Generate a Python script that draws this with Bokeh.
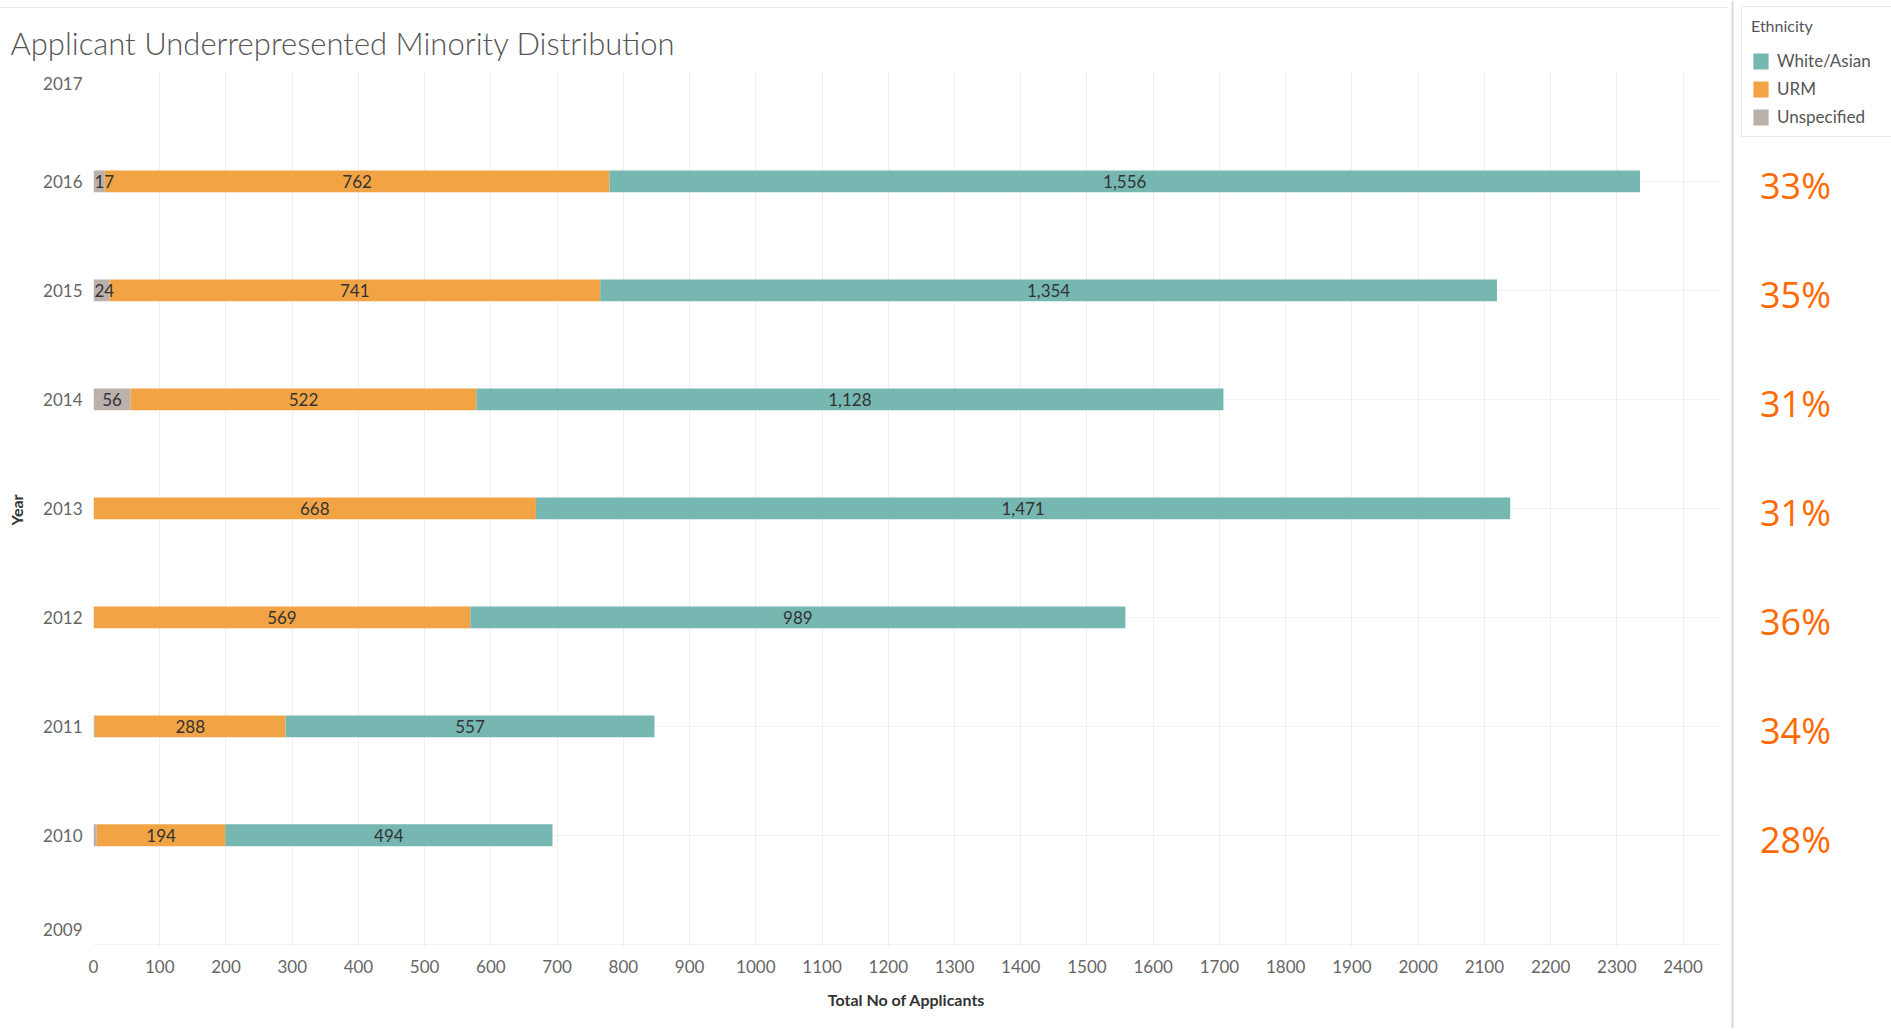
from bokeh.plotting import figure
from bokeh.layouts import row, column
from bokeh.models import ColumnDataSource, Range1d, FixedTicker, Span, Legend, LegendItem
from bokeh.core.properties import value
from bokeh.embed import file_html
from bokeh.resources import INLINE

# ---- data ----
years = [2016, 2015, 2014, 2013, 2012, 2011, 2010]
unspecified = [17, 24, 56, 0, 0, 2, 5]
urm = [762, 741, 522, 668, 569, 288, 194]
white_asian = [1556, 1354, 1128, 1471, 989, 557, 494]
urm_share_labels = ["33%", "35%", "31%", "31%", "36%", "34%", "28%"]
year_ticks = [2009, 2010, 2011, 2012, 2013, 2014, 2015, 2016, 2017]
x_ticks = [0, 100, 200, 300, 400, 500, 600, 700, 800, 900, 1000, 1100, 1200,
           1300, 1400, 1500, 1600, 1700, 1800, 1900, 2000, 2100, 2200, 2300, 2400]
series_names = ["Unspecified", "URM", "White/Asian"]
series_colors = {"Unspecified": "#BAB0AC", "URM": "#F2A444", "White/Asian": "#76B7B2"}

TITLE = "Applicant Underrepresented Minority Distribution"
FONT = "Lato"

H = 1028
STRIP = 8
W_MAIN, W_SEP, W_SIDE = 1728, 7, 156
TOP, BOTTOM = 72, 81
Y0, Y1 = 2008.97, 2017.0
px_per_year = (H - TOP - BOTTOM) / (Y1 - Y0)

# ---- thin strip with the sheet's top border ----
strip = figure(width=W_MAIN, height=STRIP, x_range=Range1d(0, 1), y_range=Range1d(0, STRIP),
               x_axis_type=None, y_axis_type=None, output_backend="svg", toolbar_location=None,
               min_border_left=0, min_border_right=0, min_border_top=0, min_border_bottom=0)
strip.frame_align = False
strip.outline_line_color = None
strip.xgrid.visible = False
strip.ygrid.visible = False
strip.add_layout(Span(location=STRIP - 4, dimension="width", line_color="#d0d0d0", line_width=2))

p = figure(width=W_MAIN, height=H - STRIP,
           x_range=Range1d(0, 2455), y_range=Range1d(Y0, Y1),
           output_backend="svg", toolbar_location=None,
           min_border_left=93, min_border_right=9, min_border_top=TOP - STRIP,
           min_border_bottom=BOTTOM)
p.frame_align = False
p.outline_line_color = None
p.background_fill_color = "white"

p.title.text = TITLE
p.title.text_font = "Lato Light"
p.title.text_font_size = "31px"
p.title.text_font_style = "normal"
p.title.text_color = "#555555"
p.title.align = "left"
p.title.offset = -83
p.title.standoff = 22

# stacked segments
series_values = {"Unspecified": unspecified, "URM": urm, "White/Asian": white_asian}
cum = [0] * len(years)
center_x, center_y, center_t = [], [], []
left_x, left_y, left_t = [], [], []
for name in series_names:
    vals = series_values[name]
    lefts = list(cum)
    rights = [a + b for a, b in zip(cum, vals)]
    src = ColumnDataSource(dict(year=years, left=lefts, right=rights))
    p.hbar(y="year", left="left", right="right", height=0.2,
           source=src, fill_color=series_colors[name], line_color=None)
    for y, l, r, v in zip(years, lefts, rights, vals):
        if v < 10:
            continue
        txt = f"{v:,}"
        if v < 40:
            left_x.append(l); left_y.append(y); left_t.append(txt)
        else:
            center_x.append((l + r) / 2); center_y.append(y); center_t.append(txt)
    cum = rights

p.text(x=center_x, y=center_y, text=center_t, text_align="center", text_baseline="middle",
       text_font=value(FONT), text_font_size="17px", text_color="#333333")
p.text(x=left_x, y=left_y, text=left_t, text_align="left", text_baseline="middle", x_offset=1,
       text_font=value(FONT), text_font_size="17px", text_color="#333333")

# axes: like Tableau, the labels of the two edge years are kept inside the frame
edge_shift_top = 11 / px_per_year
edge_shift_bottom = 15 / px_per_year
label_ticks = []
overrides = {}
for yv in year_ticks:
    if yv == max(year_ticks):
        t = round(yv - edge_shift_top, 4)
    elif yv == min(year_ticks):
        t = round(yv + edge_shift_bottom, 4)
    else:
        t = yv
    label_ticks.append(t)
    overrides[t] = str(yv)

p.xaxis.ticker = FixedTicker(ticks=x_ticks)
p.yaxis.ticker = FixedTicker(ticks=label_ticks)
p.yaxis.major_label_overrides = overrides
p.xgrid.ticker = FixedTicker(ticks=x_ticks)
p.ygrid.ticker = FixedTicker(ticks=year_ticks)
p.xgrid.grid_line_color = "#eeeeee"
p.ygrid.grid_line_color = "#f2f2f2"
for ax in (p.xaxis, p.yaxis):
    ax.axis_line_color = None
    ax.major_tick_line_color = None
    ax.minor_tick_line_color = None
    ax.major_label_text_font = FONT
    ax.major_label_text_font_size = "17px"
    ax.major_label_text_color = "#666666"
    ax.axis_label_text_font = FONT
    ax.axis_label_text_font_size = "16px"
    ax.axis_label_text_font_style = "bold"
    ax.axis_label_text_color = "#333333"
p.xaxis.axis_label = "Total No of Applicants"
p.yaxis.axis_label = "Year"
p.xaxis.major_label_standoff = 6
p.xaxis.axis_label_standoff = 14
p.yaxis.major_label_standoff = 5
p.yaxis.axis_label_standoff = 14

# ---- thin separator panel ----
sep = figure(width=W_SEP, height=H, x_range=Range1d(0, W_SEP), y_range=Range1d(0, 1),
             x_axis_type=None, y_axis_type=None, output_backend="svg", toolbar_location=None,
             min_border_left=0, min_border_right=0, min_border_top=0, min_border_bottom=0)
sep.frame_align = False
sep.outline_line_color = None
sep.xgrid.visible = False
sep.ygrid.visible = False
sep.add_layout(Span(location=4, dimension="height", line_color="#dadada", line_width=2))

# ---- right-hand panel: legend and URM share ----
side_end = Y1 + TOP / px_per_year
side_start = side_end - H / px_per_year
side = figure(width=W_SIDE, height=H,
              x_range=Range1d(0, W_SIDE), y_range=Range1d(side_start, side_end),
              x_axis_type=None, y_axis_type=None,
              output_backend="svg", toolbar_location=None,
              min_border_left=0, min_border_right=0, min_border_top=0, min_border_bottom=0)
side.frame_align = False
side.outline_line_color = None
side.xgrid.visible = False
side.ygrid.visible = False

items = []
for name in ["White/Asian", "URM", "Unspecified"]:
    r = side.hbar(y=[years[0]], left=[0], right=[0], height=0.2,
                  fill_color=series_colors[name], line_color=None)
    items.append(LegendItem(label=name, renderers=[r]))
legend = Legend(items=items, location="top_left", title="Ethnicity",
                margin=6, padding=9, spacing=7,
                glyph_width=19, glyph_height=20, label_height=20, label_width=120,
                label_standoff=7,
                label_text_font=FONT, label_text_font_size="17px", label_text_color="#555555",
                title_text_font=FONT, title_text_font_size="16px", title_text_font_style="normal",
                title_text_color="#555555", title_standoff=15,
                border_line_color="#d4d4d4", border_line_width=1,
                background_fill_color="white", background_fill_alpha=1.0)
side.add_layout(legend)

pct_x = [60] * len(years)
side.text(x=pct_x, y=years, text=urm_share_labels, text_align="center", text_baseline="middle",
          y_offset=4, text_font=value("Open Sans"), text_font_size="36px", text_color="#FF6A00")

layout = row(column(strip, p, spacing=0), sep, side, spacing=0)
open("out.html", "w").write(file_html(layout, INLINE))
